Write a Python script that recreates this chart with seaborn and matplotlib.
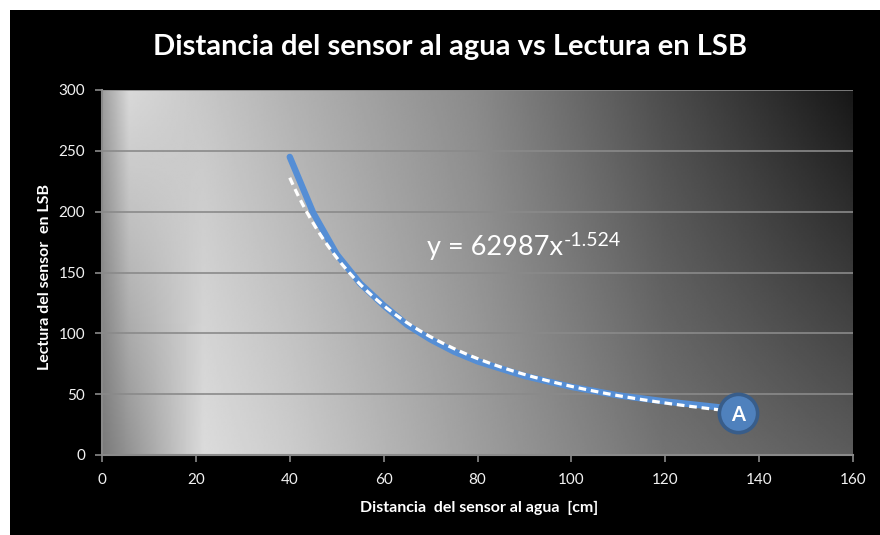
import numpy as np
import seaborn as sns
import matplotlib.pyplot as plt
from matplotlib.patches import Rectangle

# lecturas del sensor
distancia_cm = [40, 45, 50, 55, 60, 65, 70, 75, 80, 90, 100, 110, 120, 132]
lectura_lsb = [245, 199, 165, 141, 123, 107, 95, 85, 77, 65, 56, 49, 44, 39]

# linea de tendencia potencial y = a * x^b
coef_a = 62987
coef_b = -1.524

punto_a = (135.5, 34.5)

x_ticks = [0, 20, 40, 60, 80, 100, 120, 140, 160]
y_ticks = [0, 50, 100, 150, 200, 250, 300]

titulo = 'Distancia del sensor al agua vs Lectura en LSB'
etiqueta_x = 'Distancia  del sensor al agua  [cm]'
etiqueta_y = 'Lectura del sensor  en LSB'

sns.set_style('white')
plt.rcParams['font.family'] = ['Lato', 'DejaVu Sans']


def grafico():
    fig = plt.figure(figsize=(8.8, 5.35), dpi=100, facecolor='white')
    fig.patches.append(Rectangle((10 / 880, 0), 870 / 880, 525 / 535,
                                 transform=fig.transFigure, facecolor='black',
                                 edgecolor='none', zorder=-5))
    ax = fig.add_axes([102 / 880, 80 / 535, 751 / 880, 365 / 535])
    ax.set_facecolor('none')

    # fondo degradado del area de trazado (fila 0 = arriba)
    u = np.linspace(0, 1, 400)[None, :]
    w = np.linspace(0, 1, 200)[:, None]
    top = np.interp(u, [0, 0.035, 0.25, 0.5, 0.75, 1.0], [0.62, 0.85, 0.70, 0.54, 0.30, 0.09])
    bot = np.interp(u, [0, 0.135, 0.25, 0.5, 0.75, 1.0], [0.48, 0.86, 0.80, 0.62, 0.45, 0.36])
    fondo = top * (1 - w) + bot * w
    ax.imshow(fondo, extent=[0, 160, 0, 300], aspect='auto', cmap='gray',
              vmin=0, vmax=1, zorder=0, interpolation='bilinear')

    sns.lineplot(x=distancia_cm, y=lectura_lsb, ax=ax, color='#558ed5',
                 linewidth=4.6, solid_capstyle='round', zorder=3)

    x_fit = np.linspace(min(distancia_cm), max(distancia_cm) - 0.5, 200)
    ax.plot(x_fit, coef_a * x_fit ** coef_b, color='white', linewidth=2.3,
            dashes=(2.4, 1.5), zorder=4)

    ax.scatter([punto_a[0]], [punto_a[1]], s=760, color='#4f81bd',
               edgecolor='#385d8a', linewidth=2.6, zorder=5)
    ax.text(punto_a[0], punto_a[1] - 2, 'A', color='white', fontsize=14.5,
            fontweight='bold', ha='center', va='center', zorder=6)

    eq = ax.text(69.2, 164.4, f'y = {coef_a}x', color='white', fontsize=19.5,
                 ha='left', va='baseline', zorder=6)
    ax.annotate(f'{coef_b}', xy=(1, 1), xycoords=eq, xytext=(0.5, 2.5),
                textcoords='offset points', color='white', fontsize=14,
                ha='left', va='top', zorder=6)

    ax.set_xlim(0, 160)
    ax.set_ylim(0, 300)
    ax.set_xticks(x_ticks)
    ax.set_yticks(y_ticks)
    ax.yaxis.grid(True, color='#8a8a8a', linewidth=1.2)
    ax.set_axisbelow(True)
    for s in ['top', 'right']:
        ax.spines[s].set_visible(False)
    for s in ['left', 'bottom']:
        ax.spines[s].set_color('#8a8a8a')
        ax.spines[s].set_linewidth(1.5)
    ax.tick_params(axis='both', direction='out', colors='#8a8a8a', labelcolor='#f2f2f2',
                   labelsize=11, length=5, width=1.2)
    ax.tick_params(axis='x', pad=8, bottom=True)
    ax.tick_params(axis='y', pad=7, left=True)

    ax.set_xlabel(etiqueta_x, color='white', fontsize=11.5, fontweight='bold', va='center')
    ax.xaxis.set_label_coords(0.502, -0.145)
    ax.set_ylabel(etiqueta_y, color='white', fontsize=11.5, fontweight='bold', va='center')
    ax.yaxis.set_label_coords(-0.076, 0.489)

    fig.text(450 / 880, 1 - 47 / 535, titulo, color='white', fontsize=21,
             fontweight='bold', ha='center', va='center')

    fig.savefig('out.png', dpi=100, facecolor='white')


if __name__ == '__main__':
    grafico()
